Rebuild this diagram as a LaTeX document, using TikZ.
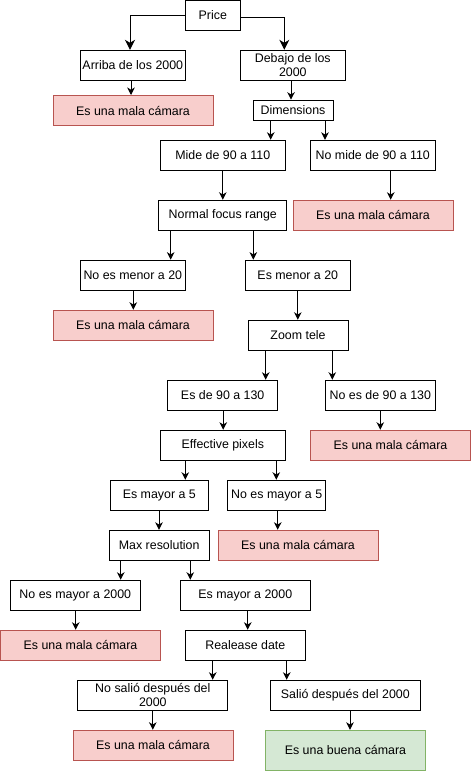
\documentclass[tikz,border=0pt]{standalone}
\usepackage{fontspec}
\setmainfont{Liberation Sans}
\usetikzlibrary{arrows.meta}
\definecolor{badfill}{HTML}{F8CECC}
\definecolor{baddraw}{HTML}{B85450}
\definecolor{goodfill}{HTML}{D5E8D4}
\definecolor{gooddraw}{HTML}{82B366}
\tikzset{
  bx/.style={draw=black, line width=1pt, fill=white, inner sep=1pt, minimum height=30pt,
    align=center, font=\fontsize{12.4}{14}\selectfont},
  bad/.style={bx, draw=baddraw, fill=badfill, minimum width=160pt},
  good/.style={bx, draw=gooddraw, fill=goodfill, minimum width=160pt, minimum height=40pt},
  arr/.style={line width=1pt, -{Stealth[length=7.5pt,width=7.5pt,inset=2.2pt]}},
  bigarr/.style={line width=1pt, -{Stealth[length=10pt,width=10pt,inset=3pt]}}
}
\newcommand\vconn[3]{\draw[arr] ([xshift=#3pt]#1.south) -- ([xshift=#3pt]#1.south |- #2.north);}
\begin{document}
\begin{tikzpicture}[x=1pt,y=-1pt]
\useasboundingbox (0,0) rectangle (471,771);
\node[bx, minimum width=55pt] (price) at (212.8,15.2) {Price};
\node[bx, minimum width=105pt] (arriba) at (132.8,65.3) {Arriba de los 2000};
\node[bx, minimum width=105pt] (debajo) at (292.8,65.3) {Debajo de los\\2000};
\node[bad] (mala1) at (133,110.5) {Es una mala cámara};
\node[bx, minimum width=80pt, minimum height=20pt] (dim) at (293,110.2) {Dimensions};
\node[bx, minimum width=125pt] (mide) at (222.8,155.3) {Mide de 90 a 110};
\node[bx, minimum width=125pt] (nomide) at (372.8,155.3) {No mide de 90 a 110};
\node[bx, minimum width=128pt] (normal) at (222.8,215.3) {Normal focus range};
\node[bad] (mala2) at (373,215.3) {Es una mala cámara};
\node[bx, minimum width=105pt] (noesmenor) at (132.8,275.2) {No es menor a 20};
\node[bx, minimum width=105pt] (esmenor) at (297.8,275.2) {Es menor a 20};
\node[bad] (mala3) at (133,325.3) {Es una mala cámara};
\node[bx, minimum width=100pt] (zoom) at (298,335.3) {Zoom tele};
\node[bx, minimum width=110pt] (esde) at (222.7,395.3) {Es de 90 a 130};
\node[bx, minimum width=110pt] (noesde) at (380.3,395.3) {No es de 90 a 130};
\node[bx, minimum width=125pt] (effective) at (222.8,445.3) {Effective pixels};
\node[bad] (mala4) at (390.5,445.3) {Es una mala cámara};
\node[bx, minimum width=98pt] (esmayor5) at (159.3,495.3) {Es mayor a 5};
\node[bx, minimum width=98pt] (noesmayor5) at (276.7,495.3) {No es mayor a 5};
\node[bx, minimum width=100pt] (maxres) at (159.2,545.3) {Max resolution};
\node[bad] (mala5) at (298,545.3) {Es una mala cámara};
\node[bx, minimum width=130pt] (noesmayor2000) at (75.3,595.3) {No es mayor a 2000};
\node[bx, minimum width=130pt] (esmayor2000) at (245.3,595.3) {Es mayor a 2000};
\node[bad] (mala6) at (80.5,645.3) {Es una mala cámara};
\node[bx, minimum width=120pt] (release) at (245.3,645.3) {Realease date};
\node[bx, minimum width=150pt] (nosalio) at (152.8,695.3) {No salió después del\\2000};
\node[bx, minimum width=150pt] (salio) at (345.3,695.3) {Salió después del 2000};
\node[bad] (mala7) at (153,745.3) {Es una mala cámara};
\node[good] (buena) at (345.5,750.3) {Es una buena cámara};
% connectors
\draw[bigarr] (price.west) -| ([xshift=-2.8pt]arriba.north);
\draw[bigarr] ([yshift=-2pt]price.east) -| ([xshift=-8.5pt]debajo.north);
\vconn{arriba}{mala1}{-1.8}
\vconn{debajo}{dim}{-1.8}
\vconn{dim}{mide}{-22.3}
\vconn{dim}{nomide}{32}
\vconn{mide}{normal}{0}
\vconn{nomide}{mala2}{17.9}
\vconn{normal}{noesmenor}{-52.1}
\vconn{normal}{esmenor}{30.5}
\vconn{noesmenor}{mala3}{0.5}
\vconn{esmenor}{zoom}{0}
\vconn{zoom}{esde}{-32.3}
\vconn{zoom}{noesde}{34.3}
\vconn{esde}{effective}{0.5}
\vconn{noesde}{mala4}{0}
\vconn{effective}{esmayor5}{-37.5}
\vconn{effective}{noesmayor5}{53.5}
\vconn{esmayor5}{maxres}{-0.3}
\vconn{noesmayor5}{mala5}{1}
\vconn{maxres}{noesmayor2000}{-38.5}
\vconn{maxres}{esmayor2000}{31.1}
\vconn{noesmayor2000}{mala6}{0.4}
\vconn{esmayor2000}{release}{2.4}
\vconn{release}{nosalio}{-32.6}
\vconn{release}{salio}{41.4}
\vconn{nosalio}{mala7}{0}
\vconn{salio}{buena}{4.7}
\end{tikzpicture}
\end{document}
